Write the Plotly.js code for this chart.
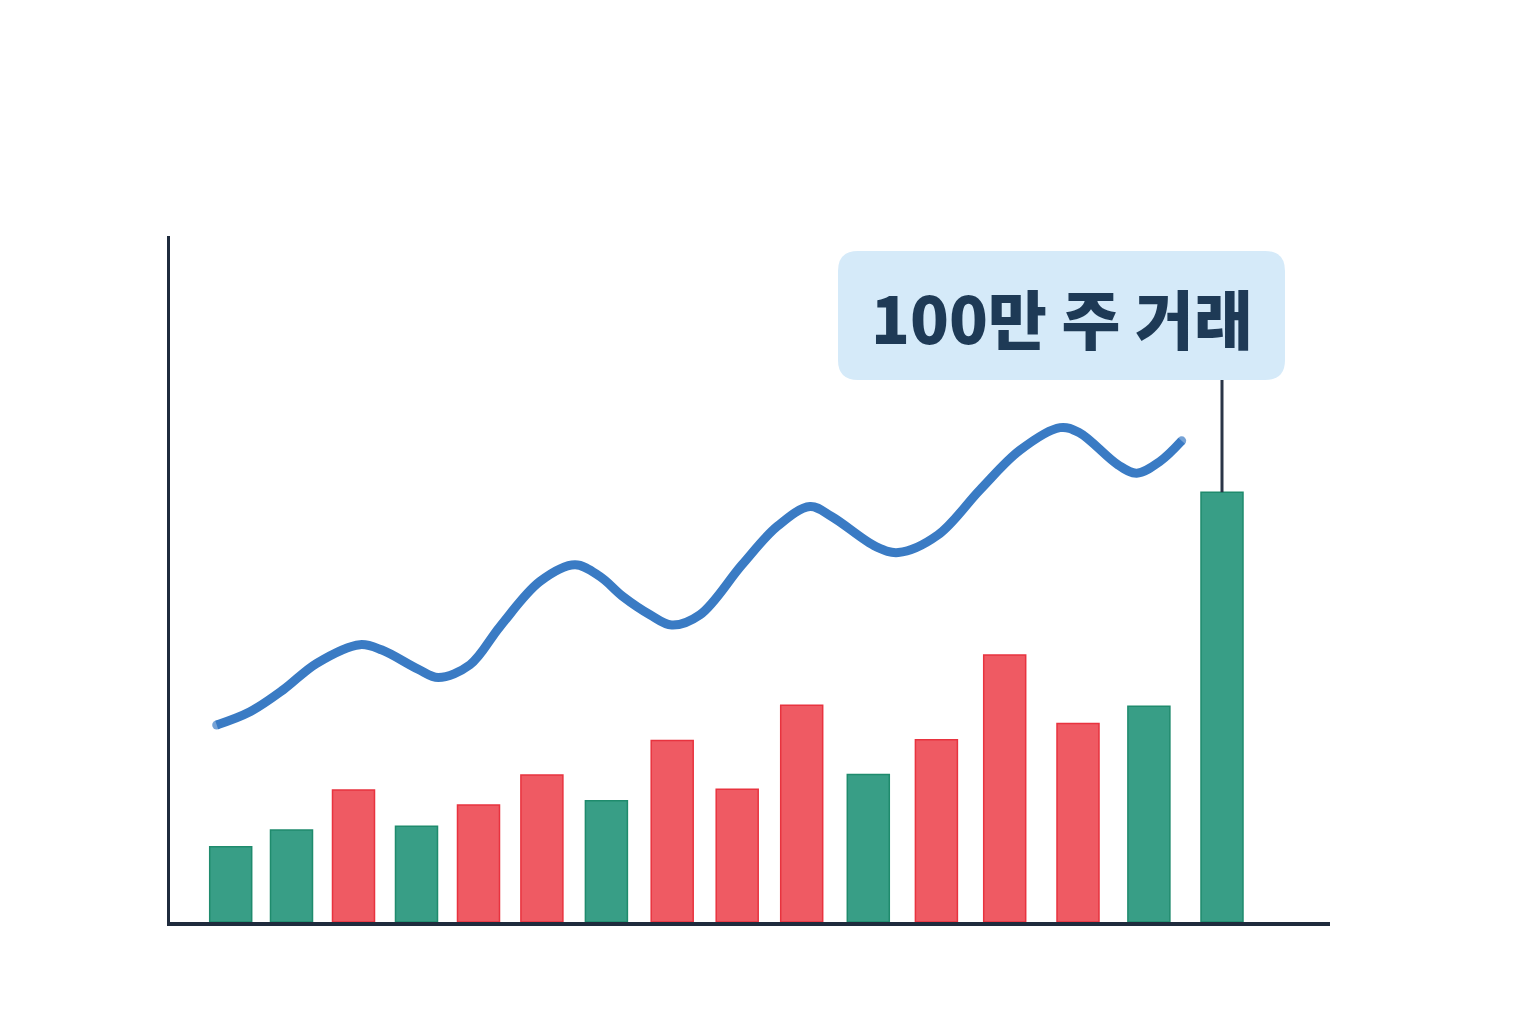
<!DOCTYPE html>
<html>
<head>
<meta charset="utf-8">
<script src="https://cdn.plot.ly/plotly-3.0.1.min.js"></script>
<style>
  html, body { margin: 0; padding: 0; background: #ffffff; }
  #chart { width: 1536px; height: 1024px; }
</style>
</head>
<body>
<div id="chart"></div>
<script>
// ---- data ----
// trading session positions (time axis units)
const sessions = [6.07, 12.15, 18.35, 24.65, 30.85, 37.19, 43.64, 50.22, 56.72, 63.17, 69.83, 76.64, 83.47, 90.8, 97.89, 105.2];
// volume per session, in 만 주 (10,000 shares)
const volume = [17.5, 21.4, 30.7, 22.3, 27.2, 34.2, 28.2, 42.2, 30.9, 50.4, 34.3, 42.4, 62.1, 46.2, 50.2, 100];
// direction of each session: 'up' = red, 'down' = green
const direction = ['down', 'down', 'up', 'down', 'up', 'up', 'down', 'up', 'up', 'up', 'down', 'up', 'up', 'up', 'down', 'down'];
// price line samples
const priceTime = [4.67, 8.0, 11.33, 14.67, 19.0, 21.2, 24.8, 26.83, 30.0, 33.0, 37.0, 40.5, 43.0, 45.3, 48.0, 50.17, 53.0, 57.2, 60.7, 64.0, 66.2, 70.6, 72.83, 76.8, 81.0, 85.0, 89.0, 90.9, 94.8, 96.67, 99.0, 101.17];
const price = [52020, 52290, 52740, 53280, 53660, 53550, 53160, 52990, 53250, 54030, 54950, 55290, 55050, 54640, 54270, 54060, 54270, 55290, 56070, 56480, 56270, 55660, 55540, 55900, 56820, 57630, 58090, 57990, 57330, 57160, 57400, 57820];
const calloutText = '100만 주 거래';
const calloutIndex = 15;

// ---- styles ----
const colorFill = { up: '#ef5a63', down: '#389e86' };
const colorEdge = { up: '#e8333f', down: '#1f8b6d' };
const lineColor = '#3a7bc4';

const W = 1536, H = 1024;
const plotL = 170, plotR = 1330, plotT = 236, plotB = 922;
const pw = plotR - plotL, ph = plotB - plotT;
const yMax = 159.6;
const px = x => (x - plotL) / pw;
const py = y => (plotB - y) / ph;

// rounded callout box (pixel geometry -> paper coords)
const bx0 = 838, bx1 = 1285, by0 = 251, by1 = 380, r = 20;
const L = px(bx0), R = px(bx1), T = py(by0), B = py(by1);
const rx = r / pw, ry = r / ph;
const boxPath = `M ${L + rx} ${T} L ${R - rx} ${T} Q ${R} ${T} ${R} ${T - ry} ` +
  `L ${R} ${B + ry} Q ${R} ${B} ${R - rx} ${B} L ${L + rx} ${B} Q ${L} ${B} ${L} ${B + ry} ` +
  `L ${L} ${T - ry} Q ${L} ${T} ${L + rx} ${T} Z`;

const barTrace = {
  type: 'bar',
  x: sessions,
  y: volume,
  width: 4.2,
  marker: {
    color: direction.map(d => colorFill[d]),
    line: { color: direction.map(d => colorEdge[d]), width: 1.5 }
  },
  hoverinfo: 'skip',
  showlegend: false
};

const lineTrace = {
  type: 'scatter',
  mode: 'lines+markers',
  x: priceTime,
  y: price,
  yaxis: 'y2',
  line: { color: lineColor, width: 9, shape: 'spline', smoothing: 1, simplify: false },
  marker: {
    color: lineColor,
    size: priceTime.map((_, i) => (i === 0 || i === priceTime.length - 1) ? 9 : 0),
    line: { width: 0 }
  },
  hoverinfo: 'skip',
  showlegend: false
};

const layout = {
  width: W, height: H,
  margin: { l: plotL, r: W - plotR, t: plotT, b: H - plotB, pad: 0 },
  paper_bgcolor: '#ffffff',
  plot_bgcolor: '#ffffff',
  showlegend: false,
  xaxis: {
    range: [0, 116], showgrid: false, zeroline: false, showticklabels: false, ticks: '',
    showline: true, linecolor: '#1f2b3d', linewidth: 4, fixedrange: true
  },
  yaxis: {
    range: [0, yMax], showgrid: false, zeroline: false, showticklabels: false, ticks: '',
    showline: true, linecolor: '#1f2b3d', linewidth: 3, fixedrange: true
  },
  yaxis2: {
    overlaying: 'y', range: [48000, 62000], showgrid: false, zeroline: false,
    showticklabels: false, ticks: '', showline: false, fixedrange: true
  },
  shapes: [
    {
      type: 'path', xref: 'paper', yref: 'paper', path: boxPath,
      fillcolor: '#d5eaf9', line: { width: 0 }, layer: 'above'
    },
    {
      type: 'line', xref: 'x', yref: 'y',
      x0: sessions[calloutIndex], x1: sessions[calloutIndex],
      y0: volume[calloutIndex], y1: yMax * B,
      line: { color: '#2a3547', width: 3 }, layer: 'above'
    }
  ],
  annotations: [
    {
      xref: 'paper', yref: 'paper',
      x: (L + R) / 2, y: py(316),
      xanchor: 'center', yanchor: 'middle',
      text: calloutText,
      showarrow: false,
      font: { family: 'Noto Sans CJK KR, Noto Sans, sans-serif', size: 64, weight: 900, color: '#1e3a56' }
    }
  ]
};

Plotly.newPlot('chart', [barTrace, lineTrace], layout, { displayModeBar: false, staticPlot: true });
</script>
</body>
</html>
